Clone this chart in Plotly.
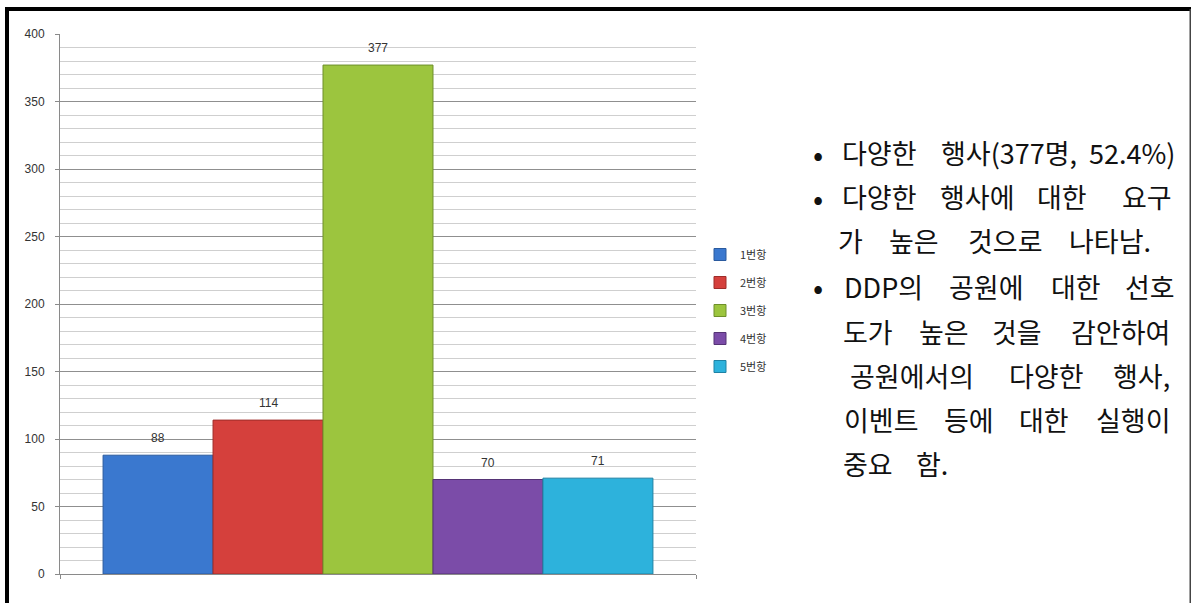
import plotly.graph_objects as go

# ---- data ----
series_names = ["1번항", "2번항", "3번항", "4번항", "5번항"]
values = [88, 114, 377, 70, 71]
bar_colors = ["#3A78CF", "#D5403C", "#9CC53E", "#7B4CA8", "#2DB2DC"]
edge_colors = ["#2A5A9E", "#9E2C29", "#6E8F2A", "#553375", "#1F82A4"]
y_ticks = [0, 50, 100, 150, 200, 250, 300, 350, 400]

# right-hand note text: (words of each line, bullet?)
note_lines = [
    (["다양한", "행사(377명,", "52.4%)"], True),
    (["다양한", "행사에", "대한", "요구"], True),
    (["가", "높은", "것으로", "나타남."], False),
    (["DDP의", "공원에", "대한", "선호"], True),
    (["도가", "높은", "것을", "감안하여"], False),
    (["공원에서의", "다양한", "행사,"], False),
    (["이벤트", "등에", "대한", "실행이"], False),
    (["중요", "함."], False),
]
# layout positions (pixels) for the word boxes
word_centers = [
    [879.5, 1009, 1131.5],
    [879.5, 977, 1062, 1146.5],
    [850, 913.5, 1005, 1109.5],
    [883.5, 986, 1075.5, 1150],
    [867.5, 943.5, 1017, 1120],
    [912.5, 1046, 1141],
    [881, 968.5, 1043.5, 1133.5],
    [867.5, 932],
]
line_y = [153, 197, 241, 286, 331, 375, 419, 463]

FIG_W, FIG_H = 1191, 603
L, R, T, B = 60, 696, 34, 574  # plot area in pixels
PW, PH = R - L, B - T


def px(x):
    return (x - L) / PW


def py(y):
    return (B - y) / PH


fig = go.Figure()
for i, (name, v) in enumerate(zip(series_names, values)):
    fig.add_trace(go.Bar(
        x=[i], y=[v], width=1, name=name,
        marker=dict(color=bar_colors[i], line=dict(color=edge_colors[i], width=1)),
        legendgroup=name, hoverinfo="skip",
    ))
    fig.add_annotation(x=i, y=v, xref="x", yref="y", text=str(v), showarrow=False,
                       yanchor="bottom", yshift=8,
                       font=dict(family="Liberation Sans", size=12, color="#333333"))

bar_n = len(values)
left_pad = (103 - 60) / ((652 - 103) / bar_n)
xr = [-0.5 - left_pad, bar_n - 0.5 + left_pad]

fig.update_layout(
    width=FIG_W, height=FIG_H,
    margin=dict(l=L, r=FIG_W - R, t=T, b=FIG_H - B, pad=0),
    paper_bgcolor="white", plot_bgcolor="white",
    barmode="overlay",
    showlegend=True,
    legend=dict(x=px(700), y=py(240), xanchor="left", yanchor="top",
                font=dict(family="Noto Sans CJK KR", size=11, color="#333333"),
                tracegroupgap=9, traceorder="grouped", itemwidth=30,
                bgcolor="rgba(0,0,0,0)"),
    xaxis=dict(range=xr, showgrid=False, zeroline=False, showline=True,
               linecolor="#8a8a8a", linewidth=1, ticks="outside", ticklen=4,
               tickcolor="#8a8a8a", tickvals=[xr[0] + 1e-6, xr[1] - 1e-6],
               showticklabels=False, fixedrange=True),
    yaxis=dict(range=[0, 400], tickvals=y_ticks, showgrid=True, gridcolor="#8f8f8f",
               gridwidth=1, zeroline=False, showline=True, linecolor="#8a8a8a",
               linewidth=1, ticks="outside", ticklen=4, tickcolor="#8a8a8a",
               ticklabelstandoff=8,
               tickfont=dict(family="Liberation Sans", size=12, color="#333333"),
               minor=dict(dtick=10, showgrid=True, gridcolor="#cfcfcf", gridwidth=1),
               fixedrange=True),
)

# frame lines of the slide
shapes = [
    dict(type="rect", xref="paper", yref="paper", x0=px(5), x1=px(1192), y0=py(11), y1=py(7),
         fillcolor="black", line=dict(width=0)),
    dict(type="rect", xref="paper", yref="paper", x0=px(5), x1=px(9), y0=py(604), y1=py(7),
         fillcolor="black", line=dict(width=0)),
    dict(type="rect", xref="paper", yref="paper", x0=px(1189.5), x1=px(1191), y0=py(604), y1=py(9),
         fillcolor="#444444", line=dict(width=0)),
]
fig.update_layout(shapes=shapes)

note_font = dict(family="Noto Sans CJK KR", size=27, color="#111111")
for (words, bullet), centers, yy in zip(note_lines, word_centers, line_y):
    if bullet:
        fig.add_annotation(x=px(818), y=py(yy), xref="paper", yref="paper", text="•",
                           showarrow=False, xanchor="center", yanchor="middle",
                           font=dict(family="Noto Sans CJK KR", size=30, color="#111111"))
    for w, cx in zip(words, centers):
        fig.add_annotation(x=px(cx), y=py(yy), xref="paper", yref="paper", text=w,
                           showarrow=False, xanchor="center", yanchor="middle",
                           font=note_font)

fig.write_html("out.html", config={"displayModeBar": False},
               post_script="document.body.style.margin='0';document.body.style.overflow='hidden';")
